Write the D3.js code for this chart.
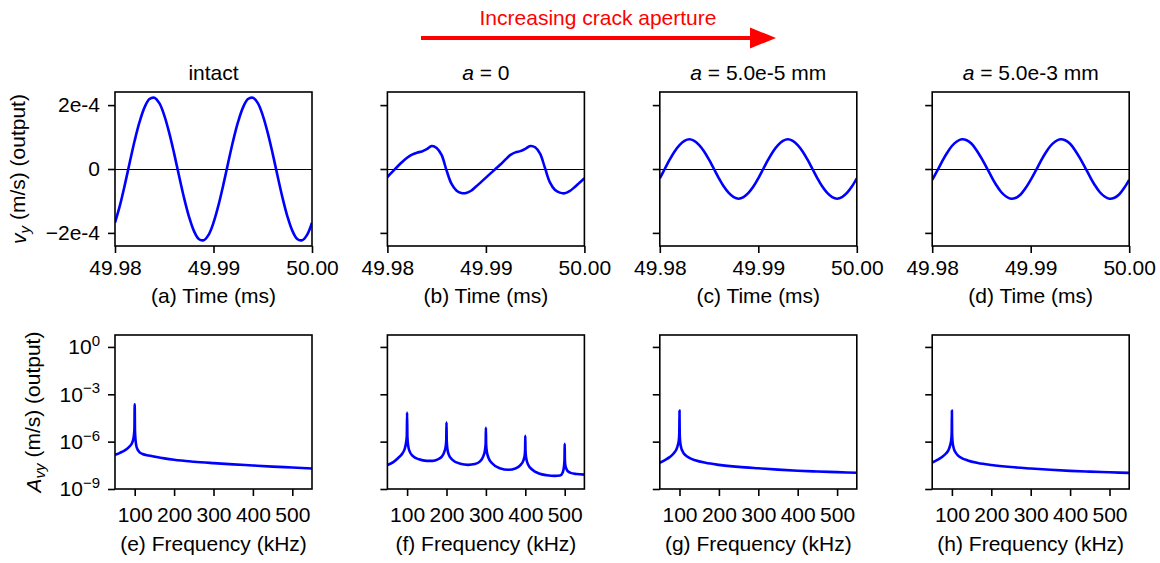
<!DOCTYPE html>
<html>
<head>
<meta charset="utf-8">
<script src="https://cdn.jsdelivr.net/npm/d3@7"></script>
<style>
  body { margin: 0; background: #fff; }
  svg { font-family: "Liberation Sans", Arial, sans-serif; }
</style>
</head>
<body>
<svg id="chart" width="1160" height="563"></svg>
<script>
// ---- Data ----
const columnTitles = ["intact", "a = 0", "a = 5.0e-5 mm", "a = 5.0e-3 mm"];
const timeLabels = ["(a) Time (ms)", "(b) Time (ms)", "(c) Time (ms)", "(d) Time (ms)"];
const freqLabels = ["(e) Frequency (kHz)", "(f) Frequency (kHz)", "(g) Frequency (kHz)", "(h) Frequency (kHz)"];

const timeTicks = [49.98, 49.99, 50.00];
const vTicks = [-2e-4, 0, 2e-4];
const vTickLabels = ["\u22122e-4", "0", "2e-4"];
const freqTicks = [100, 200, 300, 400, 500];
const ampTicks = [1e-9, 1e-6, 1e-3, 1e0];
const ampTickExp = ["\u22129", "\u22126", "\u22123", "0"];

// time samples (ms), every 0.0005 ms
const timeMs = [49.9800, 49.9805, 49.9810, 49.9815, 49.9820, 49.9825, 49.9830, 49.9835, 49.9840, 49.9845,
  49.9850, 49.9855, 49.9860, 49.9865, 49.9870, 49.9875, 49.9880, 49.9885, 49.9890, 49.9895,
  49.9900, 49.9905, 49.9910, 49.9915, 49.9920, 49.9925, 49.9930, 49.9935, 49.9940, 49.9945,
  49.9950, 49.9955, 49.9960, 49.9965, 49.9970, 49.9975, 49.9980, 49.9985, 49.9990, 49.9995, 50.0000];

// v_y in units of 1e-4 m/s
const vIntact = [-1.68, -1.14, -0.49, 0.21, 0.89, 1.48, 1.93, 2.19, 2.23, 2.06,
  1.68, 1.14, 0.49, -0.21, -0.89, -1.48, -1.93, -2.19, -2.23, -2.06,
  -1.68, -1.14, -0.49, 0.21, 0.89, 1.48, 1.93, 2.19, 2.23, 2.06,
  1.68, 1.14, 0.49, -0.21, -0.89, -1.48, -1.93, -2.19, -2.23, -2.06, -1.68];
const vA0 = [-0.25, -0.09, 0.07, 0.22, 0.35, 0.45, 0.51, 0.55, 0.62, 0.72,
  0.66, 0.44, -0.04, -0.46, -0.67, -0.75, -0.75, -0.68, -0.55, -0.41,
  -0.27, -0.13, 0.01, 0.15, 0.30, 0.44, 0.52, 0.56, 0.63, 0.72,
  0.68, 0.48, 0.03, -0.42, -0.65, -0.74, -0.76, -0.69, -0.57, -0.43, -0.29];
const vA5e5 = [-0.29, 0.00, 0.29, 0.55, 0.75, 0.88, 0.93, 0.88, 0.75, 0.55,
  0.29, 0.00, -0.29, -0.55, -0.75, -0.88, -0.93, -0.88, -0.75, -0.55,
  -0.29, 0.00, 0.29, 0.55, 0.75, 0.88, 0.93, 0.88, 0.75, 0.55,
  0.29, 0.00, -0.29, -0.55, -0.75, -0.88, -0.93, -0.88, -0.75, -0.55, -0.29];
const vA5e3 = [-0.34, -0.06, 0.23, 0.50, 0.72, 0.86, 0.93, 0.90, 0.79, 0.59,
  0.34, 0.06, -0.23, -0.50, -0.72, -0.86, -0.93, -0.90, -0.79, -0.59,
  -0.34, -0.06, 0.23, 0.50, 0.72, 0.86, 0.93, 0.90, 0.79, 0.59,
  0.34, 0.06, -0.23, -0.50, -0.72, -0.86, -0.93, -0.90, -0.79, -0.59, -0.34];

// spectra: frequency (kHz) and log10 of amplitude (m/s)
const freqE = [50, 60, 70, 80, 88, 93, 96, 98, 99.3, 100, 100.7, 102, 104, 107, 112, 120, 135, 150, 175, 200, 250, 300, 350, 400, 450, 500, 550];
const logAE = [-6.84, -6.74, -6.62, -6.47, -6.28, -6.10, -5.88, -5.60, -5.20, -3.63, -5.25, -5.85, -6.25, -6.48, -6.66, -6.78, -6.88, -6.95, -7.06, -7.15, -7.27, -7.36, -7.44, -7.51, -7.58, -7.64, -7.70];

const freqF = [50, 65, 78, 88, 94, 97, 99.2, 100, 100.8, 103, 107, 115, 130, 150,
  165, 178, 188, 194, 198, 199.4, 200, 200.6, 202.5, 207, 215, 235, 255, 272,
  285, 293, 297.5, 299.4, 300, 300.6, 302.5, 307, 315, 335, 358, 375, 387, 395,
  398.5, 399.5, 400, 400.5, 402, 407, 418, 435, 455, 475, 488, 495, 498.5, 499.5,
  500, 500.5, 502, 507, 515, 530, 550];
const logAF = [-7.48, -7.30, -7.02, -6.75, -6.45, -6.12, -5.65, -4.16, -5.70, -6.30, -6.65, -6.92, -7.12, -7.22,
  -7.22, -7.12, -6.95, -6.68, -6.30, -5.90, -4.77, -5.95, -6.50, -6.90, -7.15, -7.40, -7.47, -7.42,
  -7.25, -6.95, -6.55, -6.10, -5.13, -6.15, -6.65, -7.05, -7.35, -7.68, -7.78, -7.70, -7.50, -7.20,
  -6.85, -6.50, -5.63, -6.55, -7.00, -7.45, -7.78, -8.02, -8.13, -8.17, -8.15, -7.95, -7.50, -7.10,
  -6.14, -7.15, -7.55, -7.85, -7.98, -8.05, -8.09];

const freqG = [50, 62, 75, 85, 92, 96, 98.5, 99.5, 100, 100.5, 101.5, 104, 108, 115, 125, 140, 166, 200, 250, 300, 350, 400, 450, 500, 550];
const logAG = [-7.34, -7.18, -6.98, -6.75, -6.50, -6.20, -5.85, -5.40, -4.03, -5.45, -5.95, -6.35, -6.62, -6.86, -7.03, -7.18, -7.34, -7.47, -7.60, -7.69, -7.77, -7.84, -7.89, -7.93, -7.97];

const freqH = [50, 62, 75, 85, 92, 96, 98.5, 99.5, 100, 100.5, 101.5, 104, 108, 115, 125, 140, 166, 200, 250, 300, 350, 400, 450, 500, 550];
const logAH = [-7.33, -7.17, -6.97, -6.75, -6.50, -6.19, -5.84, -5.40, -4.03, -5.46, -5.96, -6.36, -6.63, -6.87, -7.04, -7.19, -7.35, -7.48, -7.61, -7.70, -7.78, -7.85, -7.90, -7.94, -7.98];

const timeSeries = [vIntact, vA0, vA5e5, vA5e3];
const spectra = [[freqE, logAE], [freqF, logAF], [freqG, logAG], [freqH, logAH]];

// ---- Layout ----
var layout = {
  left: 115,
  step: 272.4,
  w: 197,
  topY: 92,
  botY: 335,
  h: 154
};
const fontSize = 21;
const blue = "#0000ff";

const svg = d3.select("#chart");
svg.append("rect").attr("width", 1160).attr("height", 563).attr("fill", "#fff");

const xT = d3.scaleLinear().domain([49.98, 50.00]).range([0, layout.w]);
const yT = d3.scaleLinear().domain([-2.41e-4, 2.41e-4]).range([layout.h, 0]);
const xF = d3.scaleLinear().domain([50, 550]).range([0, layout.w]);
const yF = d3.scaleLog().domain([1e-9, 5.7]).range([layout.h, 0]);

const defs = svg.append("defs");
defs.append("clipPath").attr("id", "panelClip")
  .append("rect").attr("width", layout.w).attr("height", layout.h);

function styleAxis(g) {
  g.select(".domain").remove();
  g.selectAll(".tick line").attr("stroke", "#000").attr("stroke-width", 1.6);
  g.selectAll(".tick text").attr("fill", "#000").style("font-size", fontSize + "px");
}

function frame(g) {
  g.append("rect")
    .attr("width", layout.w).attr("height", layout.h)
    .attr("fill", "none").attr("stroke", "#000").attr("stroke-width", 1.6);
}

// column title with italic "a"
function addTitle(i, x) {
  const t = svg.append("text")
    .attr("x", x + layout.w / 2).attr("y", 80)
    .attr("text-anchor", "middle")
    .style("font-size", fontSize + "px");
  const s = columnTitles[i];
  if (s.startsWith("a ")) {
    t.append("tspan").style("font-style", "italic").text("a");
    t.append("tspan").text(s.slice(1));
  } else {
    t.text(s);
  }
}

// ---- Top row: time signals ----
timeSeries.forEach((series, i) => {
  const x0 = layout.left + i * layout.step;
  const g = svg.append("g").attr("transform", "translate(" + x0 + "," + layout.topY + ")");

  addTitle(i, x0);

  // zero reference line
  g.append("line")
    .attr("x1", 0).attr("x2", layout.w)
    .attr("y1", yT(0) + 0.5).attr("y2", yT(0) + 0.5)
    .attr("stroke", "#000").attr("stroke-width", 1.1);

  const pts = timeMs.map((t, k) => [t, series[k] * 1e-4]);
  g.append("path")
    .datum(pts)
    .attr("clip-path", "url(#panelClip)")
    .attr("fill", "none").attr("stroke", blue).attr("stroke-width", 2.6)
    .attr("d", d3.line().x(d => xT(d[0])).y(d => yT(d[1])).curve(d3.curveCatmullRom.alpha(0.5)));

  g.append("g")
    .attr("transform", "translate(0," + layout.h + ")")
    .call(d3.axisBottom(xT).tickValues(timeTicks).tickFormat(d3.format(".2f")).tickSize(7).tickPadding(7))
    .call(styleAxis);

  g.append("g")
    .call(d3.axisLeft(yT).tickValues(vTicks)
      .tickFormat((d, k) => i === 0 ? vTickLabels[k] : "").tickSize(7).tickPadding(8))
    .call(styleAxis);

  frame(g);

  svg.append("text")
    .attr("x", x0 + layout.w / 2).attr("y", 303)
    .attr("text-anchor", "middle")
    .style("font-size", fontSize + "px")
    .text(timeLabels[i]);
});

// ---- Bottom row: spectra ----
spectra.forEach((sp, i) => {
  const x0 = layout.left + i * layout.step;
  const g = svg.append("g").attr("transform", "translate(" + x0 + "," + layout.botY + ")");

  const pts = sp[0].map((f, k) => [f, Math.pow(10, sp[1][k])]);
  g.append("path")
    .datum(pts)
    .attr("clip-path", "url(#panelClip)")
    .attr("fill", "none").attr("stroke", blue).attr("stroke-width", 2.6)
    .attr("stroke-linejoin", "round")
    .attr("d", d3.line().x(d => xF(d[0])).y(d => yF(d[1])).curve(d3.curveMonotoneX));

  g.append("g")
    .attr("transform", "translate(0," + layout.h + ")")
    .call(d3.axisBottom(xF).tickValues(freqTicks).tickFormat(d3.format("d")).tickSize(7).tickPadding(11))
    .call(styleAxis);

  const ay = g.append("g")
    .call(d3.axisLeft(yF).tickValues(ampTicks).tickFormat("").tickSize(7).tickPadding(8))
    .call(styleAxis);

  if (i === 0) {
    ay.selectAll(".tick text").each(function (d, k) {
      const t = d3.select(this);
      t.text(null);
      t.append("tspan").text("10");
      t.append("tspan").attr("dy", "-0.55em").style("font-size", "15px").text(ampTickExp[k]);
    });
  }

  frame(g);

  svg.append("text")
    .attr("x", x0 + layout.w / 2).attr("y", 551)
    .attr("text-anchor", "middle")
    .style("font-size", fontSize + "px")
    .text(freqLabels[i]);
});

// ---- y axis labels ----
const yl1 = svg.append("text")
  .attr("transform", "translate(26," + (layout.topY + layout.h / 2) + ") rotate(-90)")
  .attr("text-anchor", "middle")
  .style("font-size", fontSize + "px");
yl1.append("tspan").style("font-style", "italic").text("v");
yl1.append("tspan").attr("dy", "0.25em").style("font-size", "15px").style("font-style", "italic").text("y");
yl1.append("tspan").attr("dy", "-0.25em").text(" (m/s) (output)");

const yl2 = svg.append("text")
  .attr("transform", "translate(41," + (layout.botY + layout.h / 2) + ") rotate(-90)")
  .attr("text-anchor", "middle")
  .style("font-size", fontSize + "px");
yl2.append("tspan").style("font-style", "italic").text("A");
yl2.append("tspan").attr("dy", "0.25em").style("font-size", "15px").style("font-style", "italic").text("vy");
yl2.append("tspan").attr("dy", "-0.25em").text(" (m/s) (output)");

// ---- red arrow annotation ----
svg.append("text")
  .attr("x", 598).attr("y", 25)
  .attr("text-anchor", "middle")
  .attr("fill", "#ff0000")
  .style("font-size", fontSize + "px")
  .text("Increasing crack aperture");

svg.append("line")
  .attr("x1", 421).attr("x2", 752)
  .attr("y1", 38).attr("y2", 38)
  .attr("stroke", "#ff0000").attr("stroke-width", 4);

svg.append("path")
  .attr("d", "M750,27.5 L776,38 L750,48.5 Z")
  .attr("fill", "#ff0000");
</script>
</body>
</html>
